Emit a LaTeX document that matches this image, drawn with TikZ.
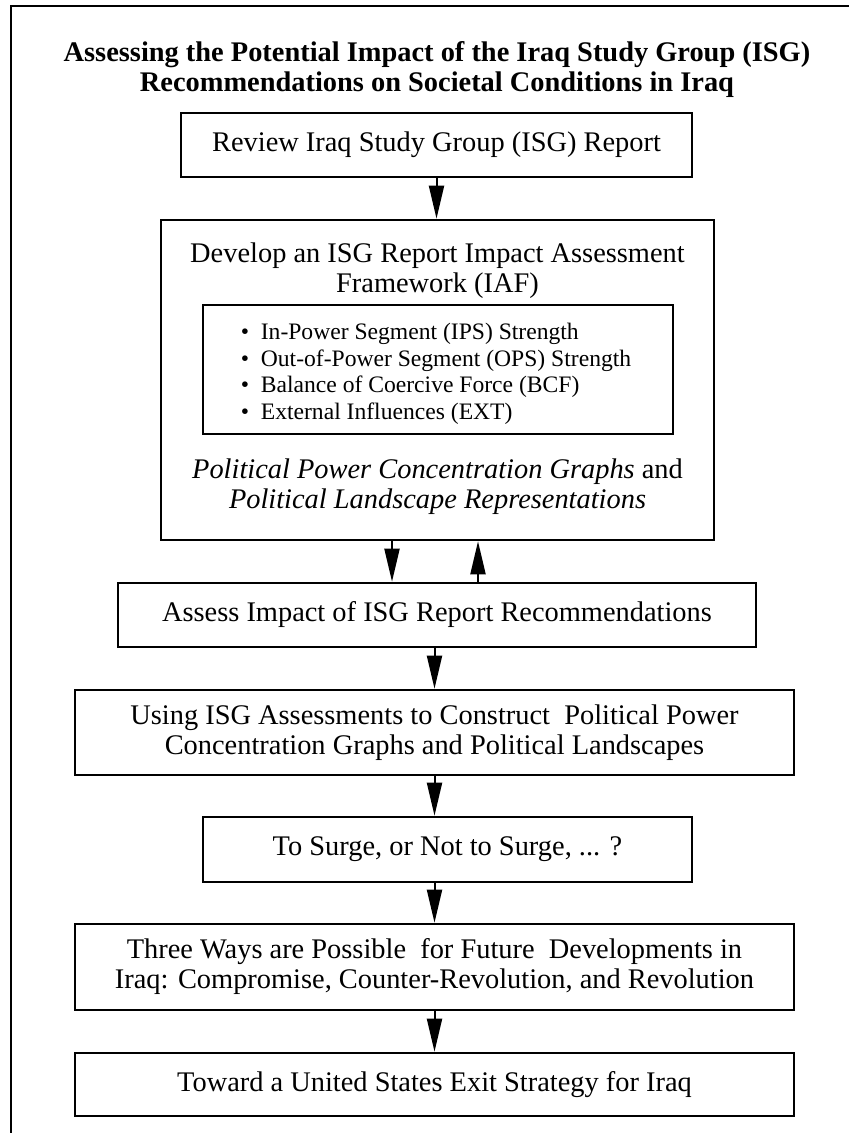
\documentclass[tikz,border=0pt]{standalone}
\usepackage{fontspec}
\setmainfont{Liberation Serif}
\usetikzlibrary{arrows.meta}

\tikzset{
  stage/.style={draw, line width=1.3pt, align=center, inner sep=0pt,
    font=\fontsize{14.2pt}{15pt}\selectfont},
  plain/.style={align=center, inner sep=0pt, font=\fontsize{14.2pt}{15pt}\selectfont},
  flow/.style={line width=1pt, -{Triangle[length=16.5pt,width=7.5pt]}},
}

\begin{document}
\begin{tikzpicture}[x=0.5pt,y=-0.5pt]
\useasboundingbox (0,0) rectangle (849,1133);
\draw[line width=1pt] (11,1140) -- (11,6) -- (855,6);

\node[plain, font=\fontsize{14.2pt}{15pt}\selectfont\bfseries] (title) at (437,70)
  {Assessing the Potential Impact of the Iraq Study Group (ISG)\\
   Recommendations on Societal Conditions in Iraq};

\node[stage, minimum width=255.5pt, minimum height=32pt] (review) at (436.5,145)
  {Review Iraq Study Group (ISG) Report};

% framework box with its three parts
\node[stage, minimum width=276.5pt, minimum height=160pt] (develop) at (437.5,380) {};
\node[plain] (devtext) at (437.5,271)
  {Develop an ISG Report Impact Assessment\\ Framework (IAF)};
\node[draw, line width=1.3pt, minimum width=235pt, minimum height=64.5pt] (factors)
  at (438,369.5) {};
\node[align=left, inner sep=0pt, font=\fontsize{11.8pt}{13.25pt}\selectfont] (factlist)
  at (436,374)
  {\textbullet\ \ In-Power Segment (IPS) Strength\\
   \textbullet\ \ Out-of-Power Segment (OPS) Strength\\
   \textbullet\ \ Balance of Coercive Force (BCF)\\
   \textbullet\ \ External Influences (EXT)};
\node[plain] (graphs) at (437.5,487)
  {\textit{Political Power Concentration Graphs} and\\
   \textit{Political Landscape Representations}};

\node[stage, minimum width=319pt, minimum height=32pt] (assess) at (437,615)
  {Assess Impact of ISG Report Recommendations};
\node[stage, minimum width=359.5pt, minimum height=42.5pt] (using) at (434.5,732.5)
  {Using ISG Assessments to Construct\ \ Political Power\\
   Concentration Graphs and Political Landscapes};
\node[stage, minimum width=244.5pt, minimum height=32.5pt] (surge) at (447.5,849.5)
  {To Surge, or Not to Surge, ... ?};
\node[stage, minimum width=359.5pt, minimum height=43pt] (three) at (434.5,967)
  {Three Ways are Possible\ \ for Future\ \ Developments in\\
   Iraq: Compromise, Counter-Revolution, and Revolution};
\node[stage, minimum width=359.5pt, minimum height=31.5pt] (toward) at (434.5,1084.5)
  {Toward a United States Exit Strategy for Iraq};

% connectors
\coordinate (down) at ([xshift=-22.75pt]develop.south);
\coordinate (up) at ([xshift=20.25pt]develop.south);
\draw[flow] (review.south) -- (review.south |- develop.north);
\draw[flow] (down) -- (down |- assess.north);
\draw[flow] (up |- assess.north) -- (up);
\draw[flow] (assess.south -| using) -- (using.north);
\draw[flow] (using.south) -- (using.south |- surge.north);
\draw[flow] (surge.south -| three) -- (three.north);
\draw[flow] (three.south) -- (toward.north);
\end{tikzpicture}
\end{document}
